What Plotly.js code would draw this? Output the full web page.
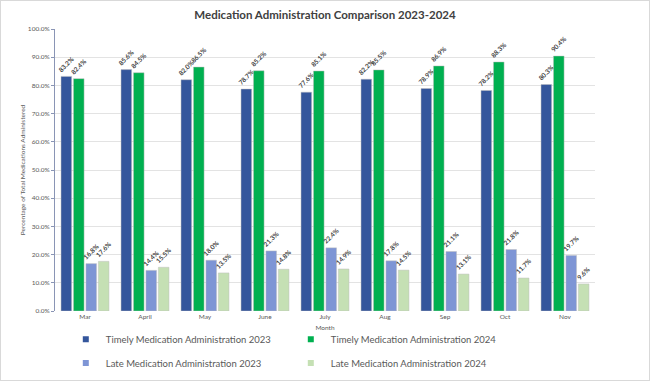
<!DOCTYPE html>
<html>
<head>
<meta charset="utf-8">
<script src="https://cdn.plot.ly/plotly-3.0.1.min.js"></script>
<style>
html,body{margin:0;padding:0;background:#fff;}
#wrap{width:648px;height:379px;border:1px solid #d9d9d9;}
#chart{width:648px;height:379px;}
</style>
</head>
<body>
<div id="wrap"><div id="chart"></div></div>
<script>
const months = ["Mar","April","May","June","July","Aug","Sep","Oct","Nov"];
const timely2023 = [83.2, 85.6, 82.0, 78.7, 77.6, 82.2, 78.9, 78.2, 80.3];
const timely2024 = [82.4, 84.5, 86.5, 85.2, 85.1, 85.5, 86.9, 88.3, 90.4];
const late2023 = [16.8, 14.4, 18.0, 21.3, 22.4, 17.8, 21.1, 21.8, 19.7];
const late2024 = [17.6, 15.5, 13.5, 14.8, 14.9, 14.5, 13.1, 11.7, 9.6];
const seriesNames = ["Timely Medication Administration 2023","Timely Medication Administration 2024","Late Medication Administration 2023","Late Medication Administration 2024"];
const tickVals = [0,10,20,30,40,50,60,70,80,90,100];
const tickText = ["0.0%","10.0%","20.0%","30.0%","40.0%","50.0%","60.0%","70.0%","80.0%","90.0%","100.0%"];

const colors = ["#34569c","#00b050","#7e95d5","#c5e0b4"];
const seriesVals = [timely2023, timely2024, late2023, late2024];
const data = seriesVals.map((vals, i) => ({
  type: "bar",
  name: seriesNames[i],
  x: months,
  y: vals,
  marker: {color: colors[i], line: {color: "rgba(190,190,190,0.8)", width: 0.6}},
  text: vals.map(v => v.toFixed(1) + "%"),
  textposition: "outside",
  textangle: -45,
  constraintext: "none",
  cliponaxis: false,
  textfont: {family: "Lato, sans-serif", size: 6.5, color: "#404040", weight: "bold"},
  hoverinfo: "none",
  showlegend: false
}));
// legend-only entries with small square swatches
seriesNames.forEach((nm, i) => {
  data.push({
    type: "scatter",
    mode: "markers",
    name: nm,
    x: [null],
    y: [null],
    marker: {symbol: "square", size: 6, color: colors[i]},
    hoverinfo: "none",
    showlegend: true,
    legend: i < 2 ? "legend" : "legend2"
  });
});

const legendCommon = {
  orientation: "h",
  xanchor: "left",
  yanchor: "middle",
  x: 0.02,
  entrywidth: 180,
  entrywidthmode: "pixels",
  itemwidth: 30,
  font: {family: "Lato, sans-serif", size: 9.5, color: "#595959"},
  bgcolor: "rgba(0,0,0,0)"
};

const layout = {
  width: 648,
  height: 379,
  margin: {l: 54, r: 54, t: 28, b: 69, autoexpand: false},
  paper_bgcolor: "#ffffff",
  plot_bgcolor: "#ffffff",
  title: {
    text: "<b>Medication Administration Comparison 2023-2024</b>",
    font: {family: "Lato, sans-serif", size: 11.5, color: "#404040"},
    x: 0.5, xanchor: "center", y: 0.963, yanchor: "middle"
  },
  barmode: "group",
  bargap: 0.17,
  bargroupgap: 0.15,
  xaxis: {
    type: "category",
    tickfont: {family: "Lato, sans-serif", size: 6.5, color: "#595959"},
    title: {text: "Month", font: {family: "Lato, sans-serif", size: 6.5, color: "#595959"}, standoff: 6},
    showline: false,
    ticks: "",
    ticklen: 0,
    automargin: false
  },
  yaxis: {
    range: [0, 100],
    tickvals: tickVals,
    ticktext: tickText,
    tickfont: {family: "Lato, sans-serif", size: 6.5, color: "#595959"},
    gridcolor: "#e3e3e3",
    gridwidth: 1,
    zeroline: false,
    showline: true,
    linecolor: "#8a95b5",
    linewidth: 1,
    ticks: "outside",
    ticklen: 3,
    tickcolor: "#8a95b5",
    automargin: false,
    title: {text: "Percentage of Total Medications Administered", font: {family: "Lato, sans-serif", size: 6.5, color: "#595959"}, standoff: 1}
  },
  showlegend: true,
  legend: Object.assign({}, legendCommon, {y: -0.1}),
  legend2: Object.assign({}, legendCommon, {y: -0.184})
};

Plotly.newPlot("chart", data, layout, {displayModeBar: false, staticPlot: true});
</script>
</body>
</html>
